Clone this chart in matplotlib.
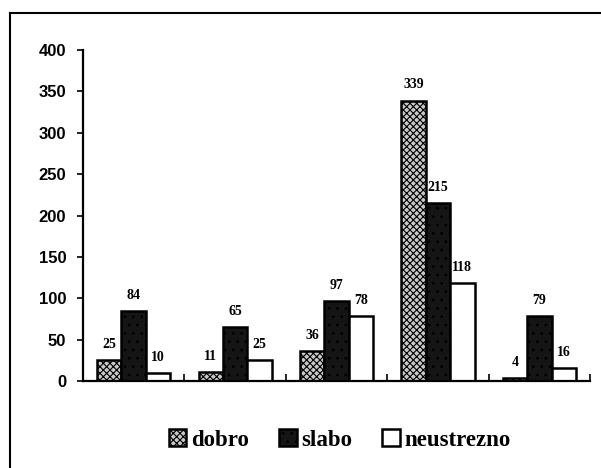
import numpy as np
import matplotlib
matplotlib.use("Agg")
import matplotlib.pyplot as plt
from matplotlib.lines import Line2D

# data
groups = ["1", "2", "3", "4", "5"]
dobro = [25, 11, 36, 339, 4]
slabo = [84, 65, 97, 215, 79]
neustrezno = [10, 25, 78, 118, 16]
series_names = ["dobro", "slabo", "neustrezno"]
yticks = [0, 50, 100, 150, 200, 250, 300, 350, 400]

fig = plt.figure(figsize=(6.01, 4.68), dpi=100)
ax = fig.add_axes([0.138, 0.186, 0.844, 0.707])

x = np.arange(len(groups))
w = 0.24
styles = [
    dict(facecolor="#c8c8c8", hatch="xxxxx", edgecolor="black"),
    dict(facecolor="#151515", hatch="..", edgecolor="black"),
    dict(facecolor="white", hatch=None, edgecolor="black"),
]
plt.rcParams["hatch.color"] = "#555555"
plt.rcParams["hatch.linewidth"] = 0.8

handles = []
for i, (vals, st) in enumerate(zip([dobro, slabo, neustrezno], styles)):
    bars = ax.bar(x + (i - 1) * w, vals, width=w, linewidth=1.8, **st)
    handles.append(bars)
    for xi, v in zip(x + (i - 1) * w, vals):
        ax.text(xi, v + 11, str(v), ha="center", va="bottom",
                fontsize=10, fontweight="bold", family="Liberation Serif")

ax.set_xlim(-0.5, len(groups) - 0.5)
ax.set_ylim(0, 400)
ax.set_yticks(yticks)
ax.set_yticklabels([str(t) for t in yticks], fontsize=12, fontweight="bold",
                   family="Liberation Sans")
ax.set_xticks(np.arange(len(groups) + 1) - 0.5)
ax.set_xticklabels([])
ax.tick_params(axis="x", direction="in", length=5, width=1.2)
ax.tick_params(axis="y", direction="out", length=4, width=1.2, pad=8)
for s in ["top", "right"]:
    ax.spines[s].set_visible(False)
for s in ["left", "bottom"]:
    ax.spines[s].set_linewidth(1.6)

leg = fig.legend(handles, series_names, loc="center", bbox_to_anchor=(0.565, 0.06),
                 ncol=3, frameon=False, handlelength=0.78, handleheight=0.78,
                 handletextpad=0.2, columnspacing=1.3,
                 prop={"family": "Liberation Serif", "size": 16.5, "weight": "bold"})

# frame around the chart area (left and top edges visible in the scan)
fig.add_artist(Line2D([10 / 601, 10 / 601], [0, 1 - 13 / 468], color="black", lw=1.5))
fig.add_artist(Line2D([10 / 601, 1], [1 - 13 / 468, 1 - 13 / 468], color="black", lw=1.5))

fig.savefig("out.png", dpi=100)
